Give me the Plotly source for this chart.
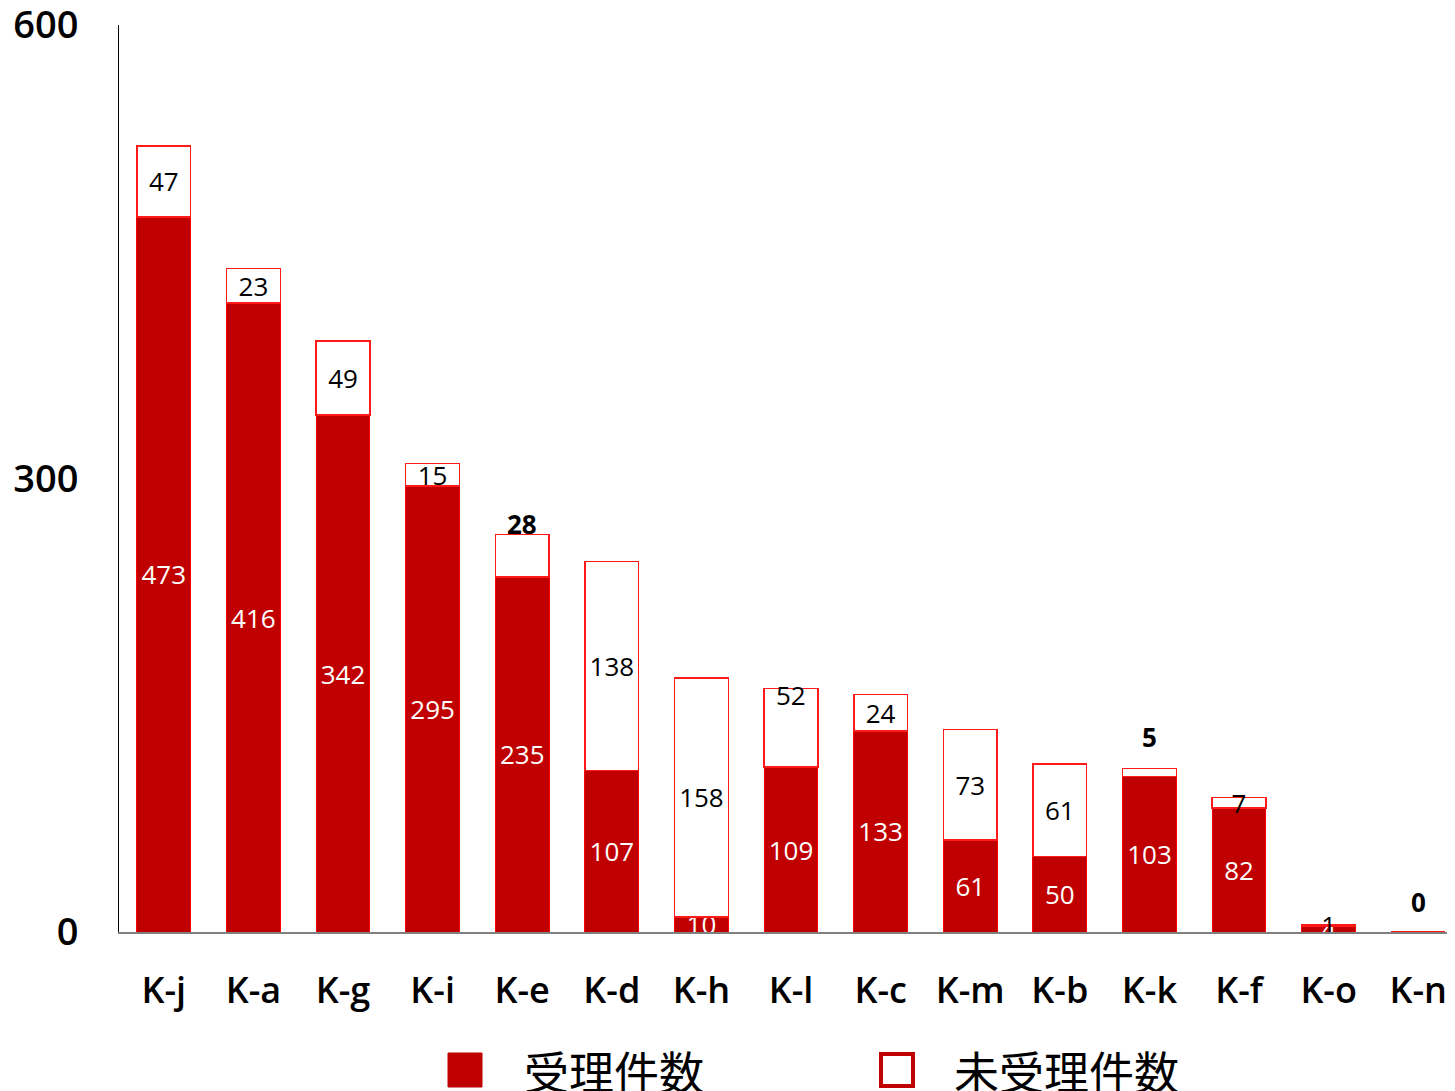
import plotly.graph_objects as go

categories = ["K-j", "K-a", "K-g", "K-i", "K-e", "K-d", "K-h", "K-l", "K-c", "K-m", "K-b", "K-k", "K-f", "K-o", "K-n"]
accepted = [473, 416, 342, 295, 235, 107, 10, 109, 133, 61, 50, 103, 82, 4, 0]
not_accepted = [47, 23, 49, 15, 28, 138, 158, 52, 24, 73, 61, 5, 7, 1, 0]
y_ticks = [0, 300, 600]
series_names = ["受理件数", "未受理件数"]

# labels drawn away from the segment centre (category -> pixel shift above bar top, bold flag)
moved_labels = {"K-e": (10, True), "K-l": (-6, False), "K-k": (32, True), "K-n": (30, True)}

RED = "#C00000"
EDGE = "#FF1A1A"
LABEL_FONT = "Open Sans"
CJK_FONT = "Noto Sans CJK JP"

white_text = [("" if c in moved_labels else str(v)) for c, v in zip(categories, not_accepted)]

fig = go.Figure()
fig.add_trace(go.Bar(
    x=categories, y=accepted, name=series_names[0],
    marker=dict(color=RED, line=dict(color="#FF0000", width=1)),
    text=[str(v) for v in accepted], textposition="inside", insidetextanchor="middle",
    textangle=0, constraintext="none",
    textfont=dict(color="white", size=26, family=LABEL_FONT),
    width=0.6, showlegend=False,
))
fig.add_trace(go.Bar(
    x=categories, y=not_accepted, name=series_names[1],
    marker=dict(color="white", line=dict(color=EDGE, width=1.5)),
    text=white_text, textposition="inside", insidetextanchor="middle",
    textangle=0, constraintext="none",
    textfont=dict(color="black", size=26, family=LABEL_FONT),
    width=0.6, showlegend=False,
))

annotations = []
for c, a, n in zip(categories, accepted, not_accepted):
    if c in moved_labels:
        shift, bold = moved_labels[c]
        txt = f"<b>{n}</b>" if bold else str(n)
        annotations.append(dict(x=c, y=a + n, xref="x", yref="y", text=txt, showarrow=False,
                                yanchor="middle", yshift=shift,
                                font=dict(size=26, color="black", family=LABEL_FONT)))

# page body has an 8px margin; figure sized/positioned to compensate
OFF = 8
W, H = 1455 - OFF, 1091 - OFF
L, T, B, R = 119 - OFF, 25 - OFF, 932 - OFF, W
pw, ph = R - L, B - T
def px(xp):
    return (xp - OFF - L) / pw
def py(yp):
    return (B - (yp - OFF)) / ph

shapes = [
    dict(type="rect", xref="paper", yref="paper", x0=px(448), x1=px(482), y0=py(1087), y1=py(1053),
         fillcolor=RED, line=dict(color=RED, width=1)),
    dict(type="rect", xref="paper", yref="paper", x0=px(881), x1=px(913), y0=py(1086), y1=py(1054),
         fillcolor="white", line=dict(color=RED, width=4)),
]
annotations.append(dict(x=px(522), y=py(1070), xref="paper", yref="paper", text=series_names[0],
                        showarrow=False, xanchor="left", yanchor="middle",
                        font=dict(size=45, color="black", family=CJK_FONT)))
annotations.append(dict(x=px(952), y=py(1070), xref="paper", yref="paper", text=series_names[1],
                        showarrow=False, xanchor="left", yanchor="middle",
                        font=dict(size=45, color="black", family=CJK_FONT)))

fig.update_layout(
    barmode="stack",
    width=W, height=H,
    margin=dict(l=L, r=0, t=T, b=H - B, pad=0, autoexpand=False),
    paper_bgcolor="white", plot_bgcolor="white",
    annotations=annotations, shapes=shapes,
    showlegend=False,
)
fig.update_xaxes(
    range=[-0.5, 14.41], showgrid=False, showline=True, linecolor="#7F7F7F", linewidth=1.5,
    ticks="", tickfont=dict(size=36, color="black", family=LABEL_FONT, weight=600),
    ticklabelstandoff=26, automargin=False, fixedrange=True,
)
fig.update_yaxes(
    range=[0, 600], tickvals=y_ticks, ticktext=[str(v) for v in y_ticks],
    showgrid=False, zeroline=False, showline=True, linecolor="black", linewidth=1,
    ticks="", tickfont=dict(size=38, color="black", family=LABEL_FONT, weight=600),
    ticklabelstandoff=32, ticklabeloverflow="allow", automargin=False, fixedrange=True,
)

fig.write_html("out.html")
